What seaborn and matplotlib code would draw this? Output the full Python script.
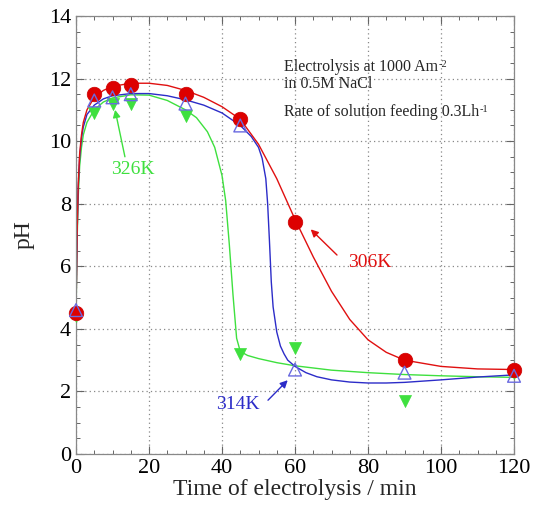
import numpy as np
import pandas as pd
import matplotlib
matplotlib.use("Agg")
import matplotlib.pyplot as plt
import seaborn as sns
from matplotlib.ticker import MultipleLocator

# measured points
time_pts = [0, 5, 10, 15, 30, 45, 60, 90, 120]
ph_306 = [4.5, 11.5, 11.7, 11.8, 11.5, 10.7, 7.4, 3.0, 2.7]
ph_314 = [4.6, 11.3, 11.4, 11.5, 11.2, 10.5, 2.7, 2.6, 2.5]
ph_326 = [4.4, 10.9, 11.2, 11.2, 10.8, 3.2, 3.4, 1.7, 2.6]

# fitted curves
fit_t_306 = [0, 0.3, 0.6, 1, 1.5, 2, 3, 5, 7.5, 10, 15, 20, 25, 30, 35, 40, 45, 50, 55, 60, 65, 70, 75, 80, 85, 90, 100, 110, 120]
fit_p_306 = [4.5, 7.0, 8.6, 9.6, 10.2, 10.6, 11.0, 11.4, 11.62, 11.75, 11.85, 11.85, 11.78, 11.62, 11.4, 11.1, 10.7, 9.9, 8.8, 7.5, 6.3, 5.2, 4.3, 3.65, 3.25, 3.0, 2.8, 2.72, 2.7]
fit_t_314 = [0, 0.3, 0.6, 1, 1.5, 2, 3, 5, 7.5, 10, 15, 20, 25, 30, 35, 40, 45, 48, 50, 51, 52, 52.5, 53, 53.5, 54, 55, 56, 57, 58, 60, 63, 66, 70, 75, 80, 85, 90, 100, 110, 120]
fit_p_314 = [4.6, 7.0, 8.5, 9.5, 10.1, 10.45, 10.85, 11.15, 11.35, 11.45, 11.52, 11.52, 11.45, 11.32, 11.15, 10.9, 10.5, 10.15, 9.8, 9.45, 8.8, 8.0, 6.8, 5.5, 4.7, 3.9, 3.45, 3.2, 3.0, 2.8, 2.6, 2.47, 2.37, 2.3, 2.27, 2.27, 2.29, 2.37, 2.46, 2.53]
fit_t_326 = [0, 0.3, 0.6, 1, 1.5, 2, 3, 5, 7.5, 10, 15, 20, 25, 30, 33, 36, 38, 40, 41, 42, 43, 44, 45, 47, 50, 55, 60, 70, 80, 90, 100, 110, 120]
fit_p_326 = [4.4, 6.8, 8.2, 9.2, 9.8, 10.2, 10.6, 11.0, 11.25, 11.38, 11.48, 11.47, 11.3, 11.0, 10.75, 10.3, 9.8, 8.9, 8.1, 6.7, 5.1, 3.7, 3.28, 3.15, 3.05, 2.92, 2.82, 2.68, 2.6, 2.54, 2.5, 2.47, 2.45]

series_names = ["306K", "314K", "326K"]
colors = {"306K": "#e01010", "314K": "#2c2cc8", "326K": "#3ee03e"}

sns.set_theme(style="ticks")
plt.rcParams["font.family"] = ["Liberation Serif", "DejaVu Serif"]
plt.rcParams["mathtext.fontset"] = "stix"

fig = plt.figure(figsize=(5.33, 5.15), dpi=100)
ax = fig.add_axes([0.1426, 0.1184, 0.8218, 0.8506])

fits = pd.concat([
    pd.DataFrame({"t": fit_t_306, "pH": fit_p_306, "s": "306K"}),
    pd.DataFrame({"t": fit_t_314, "pH": fit_p_314, "s": "314K"}),
    pd.DataFrame({"t": fit_t_326, "pH": fit_p_326, "s": "326K"}),
])
pts = pd.concat([
    pd.DataFrame({"t": time_pts, "pH": ph_306, "s": "306K"}),
    pd.DataFrame({"t": time_pts, "pH": ph_314, "s": "314K"}),
    pd.DataFrame({"t": time_pts, "pH": ph_326, "s": "326K"}),
])

for name in ["326K", "314K", "306K"]:
    sns.lineplot(data=fits[fits.s == name], x="t", y="pH", ax=ax, color=colors[name],
                 lw=1.0, sort=False, estimator=None, legend=False, zorder=2)

sns.scatterplot(data=pts[pts.s == "326K"], x="t", y="pH", ax=ax, marker="v", s=75,
                color=colors["326K"], edgecolor=colors["326K"], linewidth=0.5, zorder=3,
                legend=False, clip_on=False)
sns.scatterplot(data=pts[pts.s == "306K"], x="t", y="pH", ax=ax, marker="o", s=110,
                color="#dd0000", edgecolor="#cc0000", linewidth=0.5, zorder=4,
                legend=False, clip_on=False)
sns.scatterplot(data=pts[pts.s == "314K"], x="t", y="pH", ax=ax, marker="^", s=85,
                facecolor="none", edgecolor="#6a6ae0", linewidth=1.0, zorder=5,
                legend=False, clip_on=False)

ax.set_xlim(0, 120)
ax.set_ylim(0, 14)
ax.xaxis.set_major_locator(MultipleLocator(20))
ax.xaxis.set_minor_locator(MultipleLocator(5))
ax.yaxis.set_major_locator(MultipleLocator(2))
ax.yaxis.set_minor_locator(MultipleLocator(0.5))
ax.tick_params(which="both", direction="in", top=True, right=True, bottom=True, left=True,
               colors="#666666", labelcolor="black")
ax.tick_params(which="major", length=6, width=0.8, labelsize=16)
ax.tick_params(which="minor", length=3, width=0.7)
ax.grid(True, which="major", linestyle=(0, (1, 2.5)), color="#888888", linewidth=0.9)
for sp in ax.spines.values():
    sp.set_visible(True)
    sp.set_color("#888888")
    sp.set_linewidth(0.9)

ax.set_xlabel("Time of electrolysis / min", fontsize=17, labelpad=1)
ax.set_ylabel("pH", fontsize=17, labelpad=10)

t1 = ax.text(57, 12.36, "Electrolysis at 1000 Am", fontsize=11.5, va="center", ha="left")
ax.annotate("-2", xy=(1.0, 0.95), xycoords=t1, fontsize=7.5, va="top", ha="left")
ax.text(57, 11.83, "in 0.5M NaCl", fontsize=11.5, va="center", ha="left")
t3 = ax.text(57, 10.93, "Rate of solution feeding 0.3Lh", fontsize=11.5, va="center", ha="left")
ax.annotate("-1", xy=(1.0, 0.95), xycoords=t3, fontsize=7.5, va="top", ha="left")

labels = [("326K", (15.6, 9.1), (13.4, 9.5), (10.7, 11.0)),
          ("306K", (80.5, 6.13), (71.5, 6.36), (64.3, 7.18)),
          ("314K", (44.4, 1.57), (52.6, 1.72), (58.0, 2.36))]
for name, txy, tail, tip in labels:
    ax.text(txy[0], txy[1], name, color=colors[name], fontsize=14, ha="center", va="center")
    ax.annotate("", xy=tip, xytext=tail,
                arrowprops=dict(arrowstyle="-|>", color=colors[name], lw=1.0,
                                shrinkA=0, shrinkB=0, mutation_scale=11))

fig.savefig("out.png", dpi=100)
